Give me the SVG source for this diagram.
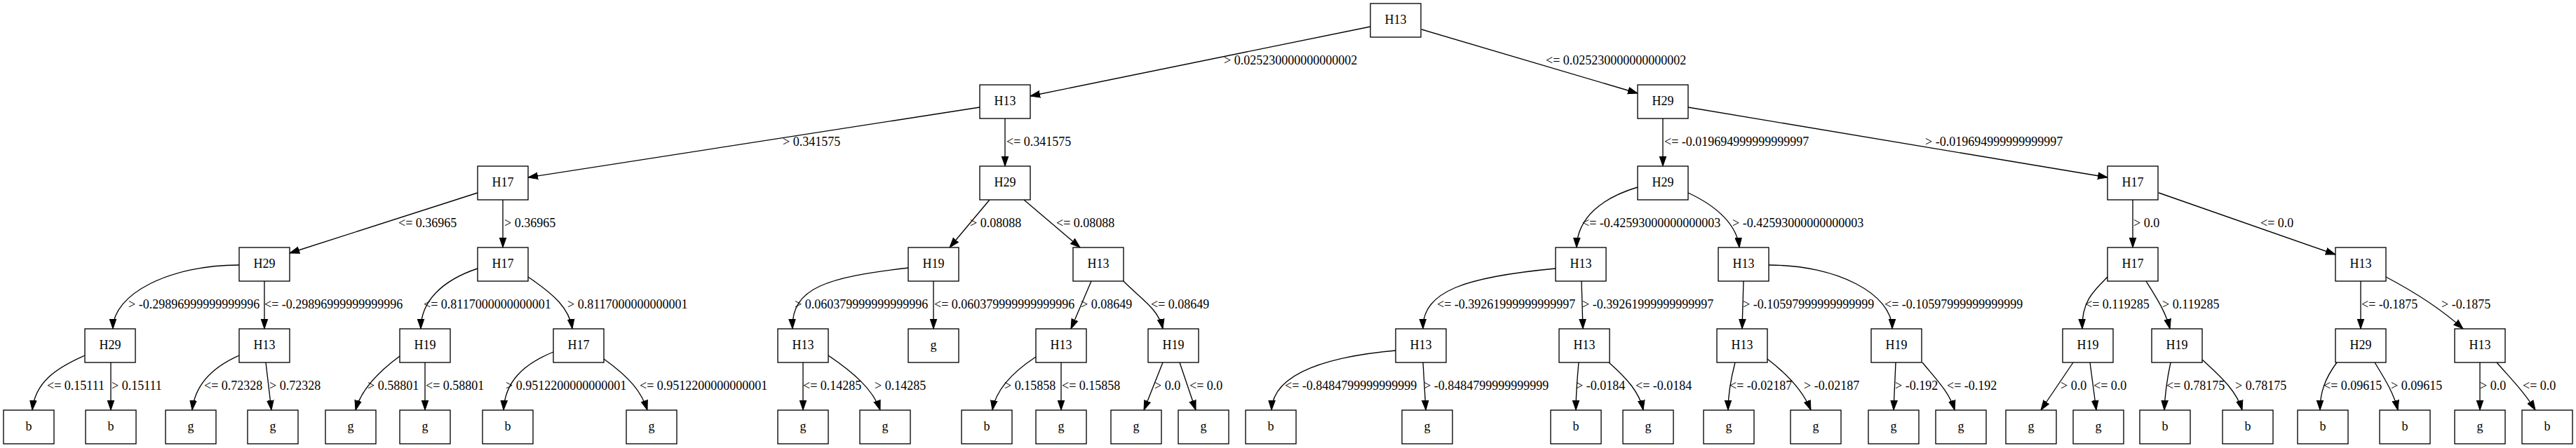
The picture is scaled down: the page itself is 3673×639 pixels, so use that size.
<svg xmlns="http://www.w3.org/2000/svg" width="3673" height="639" viewBox="0 0 3673 639">
<defs>
<style>
.nd rect{fill:#fff;stroke:#000;stroke-width:1.33}
.nd text{font-family:"Liberation Serif","Times New Roman",serif;font-size:18px;text-anchor:middle;fill:#000}
#edges path{fill:none;stroke:#000;stroke-width:1.33;marker-end:url(#ah)}
#labels text{font-family:"Liberation Serif","Times New Roman",serif;font-size:18px;fill:#000}
</style>
<marker id="ah" markerUnits="userSpaceOnUse" markerWidth="16" markerHeight="12" refX="14" refY="5" orient="auto" viewBox="0 0 16 10"><path d="M0,0.2 L14,5 L0,9.8 z" fill="#000" stroke="#000" stroke-width="1"/></marker>
</defs>
<rect width="3673" height="639" fill="#fff"/>
<g id="edges">
<path d="M1954,38 L1469,137"/>
<path d="M2027,42 L2335,133"/>
<path d="M1397,153 L753,253"/>
<path d="M1433,169 L1433,237"/>
<path d="M2371,169 L2371,237"/>
<path d="M2407,153 L3005,253"/>
<path d="M681,275 L413,361"/>
<path d="M717,285 L717,353"/>
<path d="M1411,285 L1354,353"/>
<path d="M1460,285 L1540,353"/>
<path d="M2335,267 C2285,282 2249,310 2248,353"/>
<path d="M2407,275 C2450,295 2477,322 2480,353"/>
<path d="M3041,285 L3041,353"/>
<path d="M3078,275 L3330,363"/>
<path d="M341,378 C242,378 161,419 161,469"/>
<path d="M377,401 L377,469"/>
<path d="M681,383 C630,400 600,430 600,469"/>
<path d="M753,395 C790,420 812,440 816,469"/>
<path d="M1296,382 C1180,395 1128,410 1130,469"/>
<path d="M1331,401 L1331,469"/>
<path d="M1556,401 L1527,469"/>
<path d="M1602,401 C1625,425 1652,440 1658,469"/>
<path d="M2218,383 C2090,395 2028,415 2029,469"/>
<path d="M2255,401 L2257,469"/>
<path d="M2486,401 L2484,469"/>
<path d="M2522,378 C2619,378 2698,419 2698,469"/>
<path d="M3005,395 C2985,415 2968,430 2969,469"/>
<path d="M3060,401 C3075,425 3088,445 3094,469"/>
<path d="M3366,401 L3366,469"/>
<path d="M3402,395 C3440,415 3480,440 3512,469"/>
<path d="M121,507 C80,525 50,545 46,585"/>
<path d="M158,517 L158,585"/>
<path d="M341,507 C300,525 278,550 274,585"/>
<path d="M379,517 L387,585"/>
<path d="M570,508 C540,530 515,555 507,585"/>
<path d="M606,517 L606,585"/>
<path d="M789,502 C745,520 720,545 718,585"/>
<path d="M861,512 C900,540 915,560 923,585"/>
<path d="M1145,517 L1145,585"/>
<path d="M1181,507 C1215,530 1245,555 1255,585"/>
<path d="M1477,509 C1445,530 1420,555 1415,585"/>
<path d="M1513,517 L1513,585"/>
<path d="M1658,517 L1631,585"/>
<path d="M1682,517 L1705,585"/>
<path d="M1990,500 C1900,508 1815,530 1813,585"/>
<path d="M2029,517 L2033,585"/>
<path d="M2251,517 C2249,540 2247,560 2247,585"/>
<path d="M2294,517 C2320,540 2338,560 2343,585"/>
<path d="M2474,517 C2468,540 2464,560 2464,585"/>
<path d="M2520,512 C2550,535 2572,560 2582,585"/>
<path d="M2703,517 L2700,585"/>
<path d="M2741,517 C2760,540 2780,560 2787,585"/>
<path d="M2956,517 L2910,585"/>
<path d="M2980,517 L2989,585"/>
<path d="M3095,517 C3090,540 3087,560 3086,585"/>
<path d="M3140,513 C3170,540 3190,560 3197,585"/>
<path d="M3332,517 C3315,540 3308,560 3308,585"/>
<path d="M3386,517 C3400,540 3413,560 3419,585"/>
<path d="M3536,517 L3536,585"/>
<path d="M3560,517 C3580,540 3600,560 3615,585"/>
</g>
<g id="labels">
<text x="1745" y="92">&gt; 0.025230000000000002</text>
<text x="2204" y="92">&lt;= 0.025230000000000002</text>
<text x="1116" y="208">&gt; 0.341575</text>
<text x="1435" y="208">&lt;= 0.341575</text>
<text x="2373" y="208">&lt;= -0.019694999999999997</text>
<text x="2745" y="208">&gt; -0.019694999999999997</text>
<text x="568" y="324">&lt;= 0.36965</text>
<text x="719" y="324">&gt; 0.36965</text>
<text x="1383" y="324">&gt; 0.08088</text>
<text x="1506" y="324">&lt;= 0.08088</text>
<text x="2256" y="324">&lt;= -0.42593000000000003</text>
<text x="2470" y="324">&gt; -0.42593000000000003</text>
<text x="3042" y="324">&gt; 0.0</text>
<text x="3223" y="324">&lt;= 0.0</text>
<text x="183" y="440">&gt; -0.29896999999999996</text>
<text x="377" y="440">&lt;= -0.29896999999999996</text>
<text x="604" y="440">&lt;= 0.8117000000000001</text>
<text x="809" y="440">&gt; 0.8117000000000001</text>
<text x="1133" y="440">&gt; 0.060379999999999996</text>
<text x="1332" y="440">&lt;= 0.060379999999999996</text>
<text x="1541" y="440">&gt; 0.08649</text>
<text x="1641" y="440">&lt;= 0.08649</text>
<text x="2049" y="440">&lt;= -0.39261999999999997</text>
<text x="2256" y="440">&gt; -0.39261999999999997</text>
<text x="2485" y="440">&gt; -0.10597999999999999</text>
<text x="2687" y="440">&lt;= -0.10597999999999999</text>
<text x="2973" y="440">&lt;= 0.119285</text>
<text x="3083" y="440">&gt; 0.119285</text>
<text x="3367" y="440">&lt;= -0.1875</text>
<text x="3481" y="440">&gt; -0.1875</text>
<text x="67" y="556">&lt;= 0.15111</text>
<text x="159" y="556">&gt; 0.15111</text>
<text x="291" y="556">&lt;= 0.72328</text>
<text x="384" y="556">&gt; 0.72328</text>
<text x="524" y="556">&gt; 0.58801</text>
<text x="607" y="556">&lt;= 0.58801</text>
<text x="721" y="556">&gt; 0.9512200000000001</text>
<text x="912" y="556">&lt;= 0.9512200000000001</text>
<text x="1145" y="556">&lt;= 0.14285</text>
<text x="1247" y="556">&gt; 0.14285</text>
<text x="1432" y="556">&gt; 0.15858</text>
<text x="1514" y="556">&lt;= 0.15858</text>
<text x="1646" y="556">&gt; 0.0</text>
<text x="1696" y="556">&lt;= 0.0</text>
<text x="1832" y="556">&lt;= -0.8484799999999999</text>
<text x="2030" y="556">&gt; -0.8484799999999999</text>
<text x="2247" y="556">&gt; -0.0184</text>
<text x="2332" y="556">&lt;= -0.0184</text>
<text x="2466" y="556">&lt;= -0.02187</text>
<text x="2572" y="556">&gt; -0.02187</text>
<text x="2702" y="556">&gt; -0.192</text>
<text x="2776" y="556">&lt;= -0.192</text>
<text x="2938" y="556">&gt; 0.0</text>
<text x="2985" y="556">&lt;= 0.0</text>
<text x="3089" y="556">&lt;= 0.78175</text>
<text x="3187" y="556">&gt; 0.78175</text>
<text x="3313" y="556">&lt;= 0.09615</text>
<text x="3409" y="556">&gt; 0.09615</text>
<text x="3536" y="556">&gt; 0.0</text>
<text x="3597" y="556">&lt;= 0.0</text>
</g>
<g id="n0" class="nd"><rect x="1954" y="5" width="72" height="48"/><text x="1990" y="34">H13</text></g>
<g id="n1" class="nd"><rect x="1397" y="121" width="72" height="48"/><text x="1433" y="150">H13</text></g>
<g id="n2" class="nd"><rect x="2335" y="121" width="72" height="48"/><text x="2371" y="150">H29</text></g>
<g id="n3" class="nd"><rect x="681" y="237" width="72" height="48"/><text x="717" y="266">H17</text></g>
<g id="n4" class="nd"><rect x="1397" y="237" width="72" height="48"/><text x="1433" y="266">H29</text></g>
<g id="n5" class="nd"><rect x="2335" y="237" width="72" height="48"/><text x="2371" y="266">H29</text></g>
<g id="n6" class="nd"><rect x="3005" y="237" width="72" height="48"/><text x="3041" y="266">H17</text></g>
<g id="n7" class="nd"><rect x="341" y="353" width="72" height="48"/><text x="377" y="382">H29</text></g>
<g id="n8" class="nd"><rect x="681" y="353" width="72" height="48"/><text x="717" y="382">H17</text></g>
<g id="n9" class="nd"><rect x="1295" y="353" width="72" height="48"/><text x="1331" y="382">H19</text></g>
<g id="n10" class="nd"><rect x="1530" y="353" width="72" height="48"/><text x="1566" y="382">H13</text></g>
<g id="n11" class="nd"><rect x="2218" y="353" width="72" height="48"/><text x="2254" y="382">H13</text></g>
<g id="n12" class="nd"><rect x="2450" y="353" width="72" height="48"/><text x="2486" y="382">H13</text></g>
<g id="n13" class="nd"><rect x="3005" y="353" width="72" height="48"/><text x="3041" y="382">H17</text></g>
<g id="n14" class="nd"><rect x="3330" y="353" width="72" height="48"/><text x="3366" y="382">H13</text></g>
<g id="n15" class="nd"><rect x="121" y="469" width="72" height="48"/><text x="157" y="498">H29</text></g>
<g id="n16" class="nd"><rect x="341" y="469" width="72" height="48"/><text x="377" y="498">H13</text></g>
<g id="n17" class="nd"><rect x="570" y="469" width="72" height="48"/><text x="606" y="498">H19</text></g>
<g id="n18" class="nd"><rect x="789" y="469" width="72" height="48"/><text x="825" y="498">H17</text></g>
<g id="n19" class="nd"><rect x="1109" y="469" width="72" height="48"/><text x="1145" y="498">H13</text></g>
<g id="n20" class="nd"><rect x="1295" y="469" width="72" height="48"/><text x="1331" y="498">g</text></g>
<g id="n21" class="nd"><rect x="1477" y="469" width="72" height="48"/><text x="1513" y="498">H13</text></g>
<g id="n22" class="nd"><rect x="1637" y="469" width="72" height="48"/><text x="1673" y="498">H19</text></g>
<g id="n23" class="nd"><rect x="1990" y="469" width="72" height="48"/><text x="2026" y="498">H13</text></g>
<g id="n24" class="nd"><rect x="2223" y="469" width="72" height="48"/><text x="2259" y="498">H13</text></g>
<g id="n25" class="nd"><rect x="2448" y="469" width="72" height="48"/><text x="2484" y="498">H13</text></g>
<g id="n26" class="nd"><rect x="2668" y="469" width="72" height="48"/><text x="2704" y="498">H19</text></g>
<g id="n27" class="nd"><rect x="2941" y="469" width="72" height="48"/><text x="2977" y="498">H19</text></g>
<g id="n28" class="nd"><rect x="3068" y="469" width="72" height="48"/><text x="3104" y="498">H19</text></g>
<g id="n29" class="nd"><rect x="3330" y="469" width="72" height="48"/><text x="3366" y="498">H29</text></g>
<g id="n30" class="nd"><rect x="3500" y="469" width="72" height="48"/><text x="3536" y="498">H13</text></g>
<g id="n31" class="nd"><rect x="5" y="585" width="72" height="48"/><text x="41" y="614">b</text></g>
<g id="n32" class="nd"><rect x="122" y="585" width="72" height="48"/><text x="158" y="614">b</text></g>
<g id="n33" class="nd"><rect x="236" y="585" width="72" height="48"/><text x="272" y="614">g</text></g>
<g id="n34" class="nd"><rect x="353" y="585" width="72" height="48"/><text x="389" y="614">g</text></g>
<g id="n35" class="nd"><rect x="464" y="585" width="72" height="48"/><text x="500" y="614">g</text></g>
<g id="n36" class="nd"><rect x="570" y="585" width="72" height="48"/><text x="606" y="614">g</text></g>
<g id="n37" class="nd"><rect x="688" y="585" width="72" height="48"/><text x="724" y="614">b</text></g>
<g id="n38" class="nd"><rect x="893" y="585" width="72" height="48"/><text x="929" y="614">g</text></g>
<g id="n39" class="nd"><rect x="1109" y="585" width="72" height="48"/><text x="1145" y="614">g</text></g>
<g id="n40" class="nd"><rect x="1226" y="585" width="72" height="48"/><text x="1262" y="614">g</text></g>
<g id="n41" class="nd"><rect x="1371" y="585" width="72" height="48"/><text x="1407" y="614">b</text></g>
<g id="n42" class="nd"><rect x="1477" y="585" width="72" height="48"/><text x="1513" y="614">g</text></g>
<g id="n43" class="nd"><rect x="1584" y="585" width="72" height="48"/><text x="1620" y="614">g</text></g>
<g id="n44" class="nd"><rect x="1680" y="585" width="72" height="48"/><text x="1716" y="614">g</text></g>
<g id="n45" class="nd"><rect x="1776" y="585" width="72" height="48"/><text x="1812" y="614">b</text></g>
<g id="n46" class="nd"><rect x="1999" y="585" width="72" height="48"/><text x="2035" y="614">g</text></g>
<g id="n47" class="nd"><rect x="2211" y="585" width="72" height="48"/><text x="2247" y="614">b</text></g>
<g id="n48" class="nd"><rect x="2314" y="585" width="72" height="48"/><text x="2350" y="614">g</text></g>
<g id="n49" class="nd"><rect x="2429" y="585" width="72" height="48"/><text x="2465" y="614">g</text></g>
<g id="n50" class="nd"><rect x="2553" y="585" width="72" height="48"/><text x="2589" y="614">g</text></g>
<g id="n51" class="nd"><rect x="2664" y="585" width="72" height="48"/><text x="2700" y="614">g</text></g>
<g id="n52" class="nd"><rect x="2760" y="585" width="72" height="48"/><text x="2796" y="614">g</text></g>
<g id="n53" class="nd"><rect x="2860" y="585" width="72" height="48"/><text x="2896" y="614">g</text></g>
<g id="n54" class="nd"><rect x="2956" y="585" width="72" height="48"/><text x="2992" y="614">g</text></g>
<g id="n55" class="nd"><rect x="3051" y="585" width="72" height="48"/><text x="3087" y="614">b</text></g>
<g id="n56" class="nd"><rect x="3169" y="585" width="72" height="48"/><text x="3205" y="614">b</text></g>
<g id="n57" class="nd"><rect x="3276" y="585" width="72" height="48"/><text x="3312" y="614">b</text></g>
<g id="n58" class="nd"><rect x="3393" y="585" width="72" height="48"/><text x="3429" y="614">b</text></g>
<g id="n59" class="nd"><rect x="3500" y="585" width="72" height="48"/><text x="3536" y="614">g</text></g>
<g id="n60" class="nd"><rect x="3596" y="585" width="72" height="48"/><text x="3632" y="614">b</text></g>
</svg>
